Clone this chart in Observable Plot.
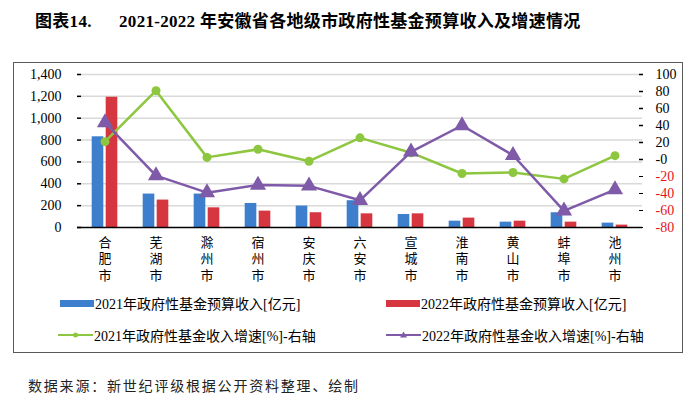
<!DOCTYPE html>
<html>
<head>
<meta charset="utf-8">
<script src="https://cdn.jsdelivr.net/npm/d3@7"></script>
<script src="https://cdn.jsdelivr.net/npm/@observablehq/plot@0.6"></script>
<style>
  html, body { margin: 0; padding: 0; background: #fff; }
  #page { position: relative; width: 700px; height: 405px; overflow: hidden; font-family: 'Liberation Serif', 'Noto Sans CJK SC', serif; color: #000; }
  #title { position: absolute; left: 35px; top: 7px; font-size: 17px; font-weight: bold; white-space: pre; letter-spacing: 0.3px; }
  #frame { position: absolute; left: 13px; top: 62px; width: 668px; height: 289px; border: 1.5px solid #595959; }
  #chart { position: absolute; left: 0; top: 62px; }
  .leg { position: absolute; font-size: 14px; display: flex; align-items: center; white-space: nowrap; }
  .leg svg { margin-right: 1px; }
  #source { position: absolute; left: 28px; top: 375px; font-size: 14px; letter-spacing: 1.8px; color: #222; font-family: 'Noto Sans CJK SC', sans-serif; }
</style>
</head>
<body>
<div id="page">
  <div id="title">图表14.      2021-2022 年安徽省各地级市政府性基金预算收入及增速情况</div>
  <div id="frame"></div>
  <div id="chart"></div>
  <div id="legend"></div>
  <div id="source">数据来源：新世纪评级根据公开资料整理、绘制</div>
</div>
<script>
const cities = ["合肥市","芜湖市","滁州市","宿州市","安庆市","六安市","宣城市","淮南市","黄山市","蚌埠市","池州市"];
const rev2021 = [830, 306, 306, 220, 196, 245, 119, 58, 49, 135, 40];
const rev2022 = [1192, 251, 180, 150, 135, 125, 125, 86, 58, 49, 22];
const growth2021 = [21, 81, 2.5, 12, -2, 25.5, 8, -16.5, -15.3, -22.8, 4.5];
const growth2022 = [43.5, -19, -39, -30, -31, -48, 9, 40, 5, -60.5, -35.5];
const leftTicks = [0, 200, 400, 600, 800, 1000, 1200, 1400];
const rightTicks = [-80, -60, -40, -20, 0, 20, 40, 60, 80, 100];
const seriesNames = ["2021年政府性基金预算收入[亿元]", "2022年政府性基金预算收入[亿元]", "2021年政府性基金收入增速[%]-右轴", "2022年政府性基金收入增速[%]-右轴"];

const BLUE = "#3d7fcc", RED = "#d6363f", GREEN = "#8dc63f", PURPLE = "#7e5aa8";

const LMAX = 1400, RMIN = -80, RMAX = 100;
const toLeft = g => (g - RMIN) * LMAX / (RMAX - RMIN);
const fromLeft = v => Math.round(v * (RMAX - RMIN) / LMAX + RMIN);

const data = cities.map((c, i) => ({city: c, r21: rev2021[i], r22: rev2022[i], g21: growth2021[i], g22: growth2022[i]}));

const bw = (700 - 77 - 58) / cities.length;
const inset = (bw - 12) / 2;

const chart = Plot.plot({
  width: 700,
  height: 225,
  marginLeft: 77,
  marginRight: 58,
  marginTop: 12,
  marginBottom: 60,
  style: {fontFamily: "'Liberation Serif', 'Noto Sans CJK SC', serif", fontSize: "14px", background: "transparent", overflow: "visible", color: "#000"},
  x: {type: "band", domain: cities, padding: 0},
  y: {domain: [0, LMAX]},
  marks: [
    Plot.gridY(leftTicks.slice(1), {stroke: "#d9d9d9", strokeOpacity: 1, strokeWidth: 1.5}),
    Plot.barY(data, {x: "city", y: "r21", fill: BLUE, insetLeft: inset, insetRight: inset, dx: -7}),
    Plot.barY(data, {x: "city", y: "r22", fill: RED, insetLeft: inset, insetRight: inset, dx: 7}),
    Plot.ruleY([0], {stroke: "#000", strokeWidth: 1.5}),
    Plot.axisY({anchor: "left", ticks: leftTicks, tickFormat: d3.format(","), tickSize: -4, tickPadding: 20, label: null, line: true, strokeWidth: 1.5, fontSize: 14}),
    Plot.axisY(rightTicks.filter(d => d >= 0).map(toLeft), {anchor: "right", tickFormat: fromLeft, tickSize: -4, tickPadding: 17, label: null, line: true, strokeWidth: 1.5, fontSize: 14}),
    Plot.axisY(rightTicks.filter(d => d < 0).map(toLeft), {anchor: "right", tickFormat: fromLeft, tickSize: -4, tickPadding: 17, label: null, fill: "#e8141c", fontSize: 14}),
    Plot.axisX({tickSize: 0, tickPadding: 8, label: null, tickFormat: d => d.split("").join("\n"), lineHeight: 1.25, fontFamily: "'Noto Sans CJK SC', sans-serif", fontSize: 13}),
    Plot.lineY(data, {x: "city", y: d => toLeft(d.g21), stroke: GREEN, strokeWidth: 2.5}),
    Plot.dot(data, {x: "city", y: d => toLeft(d.g21), r: 4.5, fill: GREEN}),
    Plot.lineY(data, {x: "city", y: d => toLeft(d.g22), stroke: PURPLE, strokeWidth: 2.5}),
    Plot.dot(data, {x: "city", y: d => toLeft(d.g22), symbol: "triangle", r: 6, fill: PURPLE})
  ]
});
document.getElementById("chart").appendChild(chart);

// legend (HTML)
const legend = document.getElementById("legend");
const legItems = [
  {name: seriesNames[0], kind: "bar", color: BLUE, left: 60, top: 293},
  {name: seriesNames[1], kind: "bar", color: RED, left: 386, top: 293},
  {name: seriesNames[2], kind: "dot", color: GREEN, left: 58, top: 325},
  {name: seriesNames[3], kind: "tri", color: PURPLE, left: 386, top: 325}
];
for (const it of legItems) {
  const div = document.createElement("div");
  div.className = "leg";
  div.style.left = it.left + "px";
  div.style.top = it.top + "px";
  let sw;
  if (it.kind === "bar") {
    sw = `<svg width="34" height="18"><rect x="0" y="6" width="34" height="7" fill="${it.color}"/></svg>`;
  } else if (it.kind === "dot") {
    sw = `<svg width="35" height="18"><line x1="0" x2="35" y1="9" y2="9" stroke="${it.color}" stroke-width="2"/><circle cx="17.5" cy="9" r="2.5" fill="${it.color}"/></svg>`;
  } else {
    sw = `<svg width="35" height="18"><line x1="0" x2="35" y1="9" y2="9" stroke="${it.color}" stroke-width="2"/><path d="M17.5,5.5 L21,11.5 L14,11.5 Z" fill="${it.color}"/></svg>`;
  }
  div.innerHTML = sw + `<span>${it.name}</span>`;
  legend.appendChild(div);
}
</script>
</body>
</html>
